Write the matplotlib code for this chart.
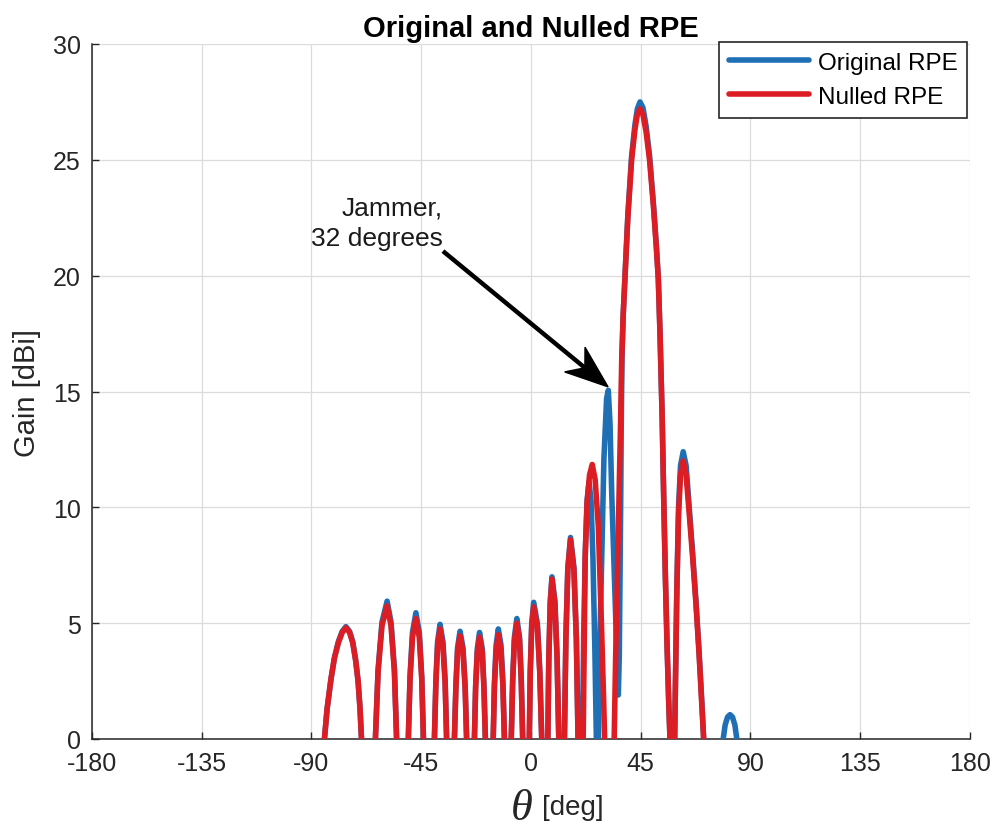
import numpy as np
import matplotlib.pyplot as plt
from matplotlib.patches import Polygon

plt.rcParams['font.family'] = ['Liberation Sans', 'DejaVu Sans']
plt.rcParams['axes.unicode_minus'] = False

# sidelobes left of the beam (angles shared by both patterns), -3 = dips below the axis
lobe_theta = [
    -84.9, -84.7, -83.6, -82.0, -80.6, -79.0, -77.4, -75.9, -74.4, -73.1, -71.9, -70.9, -70.1, -69.5, -69.3,
    -64.0, -63.8, -62.7, -61.1, -59.0, -57.4, -56.0, -55.1, -54.9,
    -50.5, -50.3, -49.6, -48.6, -47.2, -45.8, -44.8, -44.1, -43.9,
    -39.8, -39.6, -39.0, -38.3, -37.3, -36.1, -35.2, -34.6, -34.4,
    -31.6, -31.4, -30.8, -30.1, -29.1, -27.9, -27.0, -26.4, -26.2,
    -23.4, -23.2, -22.7, -22.0, -21.1, -20.0, -19.3, -18.7, -18.5,
    -15.7, -15.5, -15.0, -14.3, -13.4, -12.3, -11.5, -10.9, -10.7,
    -8.3, -8.1, -7.5, -6.8, -5.8, -4.7, -4.0, -3.4, -3.2,
    -0.9, -0.7, -0.3, 0.3, 1.1, 2.6, 3.6, 4.4, 4.6,
    6.7, 6.9, 7.3, 7.9, 8.6, 9.8, 10.7, 11.4, 11.6,
    13.5, 13.7, 14.3, 15.1, 16.2, 17.6, 18.6, 19.3, 19.5,
]
orig_lobe_gain = [
    -3, 0, 1.3, 2.6, 3.5, 4.2, 4.65, 4.85, 4.65, 4.2, 3.4, 2.5, 1.3, 0, -3,
    -3, 0, 3.0, 5.05, 5.95, 5.05, 3.0, 0, -3,
    -3, 0, 2.7, 4.6, 5.45, 4.6, 2.7, 0, -3,
    -3, 0, 2.5, 4.2, 4.95, 4.2, 2.5, 0, -3,
    -3, 0, 2.3, 3.95, 4.65, 3.95, 2.3, 0, -3,
    -3, 0, 2.3, 3.9, 4.6, 3.9, 2.3, 0, -3,
    -3, 0, 2.4, 4.05, 4.75, 4.05, 2.4, 0, -3,
    -3, 0, 2.6, 4.4, 5.2, 4.4, 2.6, 0, -3,
    -3, 0, 2.95, 5.0, 5.9, 5.0, 2.95, 0, -3,
    -3, 0, 3.5, 5.95, 7.0, 5.95, 3.5, 0, -3,
    -3, 0, 4.35, 7.4, 8.7, 7.4, 4.35, 0, -3,
]
nulled_lobe_gain = [
    -3, 0, 1.3, 2.6, 3.5, 4.15, 4.6, 4.8, 4.6, 4.15, 3.4, 2.5, 1.3, 0, -3,
    -3, 0, 2.9, 4.9, 5.75, 4.9, 2.9, 0, -3,
    -3, 0, 2.6, 4.4, 5.2, 4.4, 2.6, 0, -3,
    -3, 0, 2.4, 4.0, 4.75, 4.0, 2.4, 0, -3,
    -3, 0, 2.2, 3.8, 4.45, 3.8, 2.2, 0, -3,
    -3, 0, 2.2, 3.75, 4.4, 3.75, 2.2, 0, -3,
    -3, 0, 2.25, 3.8, 4.5, 3.8, 2.25, 0, -3,
    -3, 0, 2.5, 4.25, 5.0, 4.25, 2.5, 0, -3,
    -3, 0, 2.85, 4.85, 5.7, 4.85, 2.85, 0, -3,
    -3, 0, 3.45, 5.85, 6.9, 5.85, 3.45, 0, -3,
    -3, 0, 4.3, 7.3, 8.6, 7.3, 4.3, 0, -3,
]

# original pattern from 20 deg on: lobe, jammer lobe, main beam, far sidelobes
orig_theta_main = [
    20.9, 21.1, 21.6, 22.3, 23.0, 23.8, 24.6, 25.4, 26.2, 26.8, 27.0,
    27.4, 27.6, 28.2, 29.0, 29.9, 31.0, 31.7, 32.4, 33.1, 34.4, 35.4, 35.8,
    36.2, 36.5, 36.8, 37.0, 37.3, 37.8, 38.5, 39.7, 41.25, 42.6, 43.6, 44.7,
    45.9, 47.2, 48.6, 50.2, 51.4, 52.2, 52.9, 53.4, 53.8, 54.4, 55.1, 55.8,
    56.5, 57.0, 57.2,
    58.6, 58.9, 59.3, 59.8, 60.5, 61.3, 62.4, 63.6, 64.9, 66.3, 67.6, 68.9,
    70.1, 70.8, 71.0,
    78.6, 78.8, 79.6, 80.6, 81.6, 82.6, 83.6, 84.4, 84.6,
]
orig_gain_main = [
    -3, 0, 4.5, 8.2, 10.3, 11.1, 10.3, 7.8, 3.8, 0, -3,
    -3, 0, 4.0, 7.8, 12.1, 14.7, 15.05, 13.6, 10.6, 6.3, 3.0, 1.9,
    3.6, 7.0, 10.5, 13.5, 16.4, 18.3, 19.9, 22.6, 25.15, 26.5, 27.2, 27.5,
    27.25, 26.45, 25.2, 23.1, 21.3, 19.9, 17.5, 15.5, 13.8, 10.5, 7.0, 4.0,
    1.5, 0, -3,
    -3, 0, 3.0, 6.5, 10.0, 11.8, 12.4, 11.8, 10.0, 8.0, 6.0, 3.8,
    1.5, 0, -3,
    -3, 0, 0.6, 0.95, 1.05, 0.95, 0.6, 0, -3,
]

# nulled pattern from 20 deg on: null placed at the jammer
nulled_theta_main = [
    21.2, 21.4, 21.8, 22.2, 23.0, 24.0, 25.1, 26.3, 27.6, 28.9, 29.7, 30.2, 30.4,
    33.9, 34.1, 34.7, 35.4, 36.1, 36.7, 37.2, 37.8, 38.5, 39.7, 41.25, 42.6,
    43.6, 44.7, 45.9, 47.2, 48.6, 50.2, 51.4, 52.2, 52.9, 53.4, 53.8, 54.4,
    55.1, 55.8, 56.5, 57.0, 57.2,
    58.6, 58.9, 59.3, 59.8, 60.5, 61.3, 62.4, 63.6, 64.9, 66.3, 67.6, 68.9,
    70.1, 70.8, 71.0,
]
nulled_gain_main = [
    -3, 0, 4.0, 7.8, 10.2, 11.4, 11.85, 11.2, 9.2, 4.9, 2.0, 0, -3,
    -3, 0, 3.5, 7.0, 10.5, 13.5, 16.4, 18.3, 19.85, 22.5, 25.0, 26.3,
    26.95, 27.2, 26.95, 26.2, 25.0, 23.0, 21.2, 19.85, 17.5, 15.5, 13.8, 10.5,
    7.0, 4.0, 1.5, 0, -3,
    -3, 0, 3.0, 6.4, 9.7, 11.4, 12.0, 11.4, 9.7, 7.8, 5.9, 3.7,
    1.4, 0, -3,
]

xticks = [-180, -135, -90, -45, 0, 45, 90, 135, 180]
yticks = [0, 5, 10, 15, 20, 25, 30]

orig_theta = lobe_theta + orig_theta_main
orig_gain = orig_lobe_gain + orig_gain_main
nulled_theta = lobe_theta + nulled_theta_main
nulled_gain = nulled_lobe_gain + nulled_gain_main

fig = plt.figure(figsize=(9.95, 8.29), dpi=100)
ax = fig.add_axes([92 / 995, 89 / 829, 878 / 995, 695 / 829])

blue = '#1F6FB5'
red = '#DC1E24'
ax.plot(orig_theta, orig_gain, color=blue, lw=4.0, label='Original RPE',
        solid_joinstyle='round', solid_capstyle='round', zorder=3)
ax.plot(nulled_theta, nulled_gain, color=red, lw=4.0, label='Nulled RPE',
        solid_joinstyle='round', solid_capstyle='round', zorder=4)

ax.set_xlim(-180, 180)
ax.set_ylim(0, 30)
ax.set_xticks(xticks)
ax.set_yticks(yticks)
ax.set_xticklabels([str(t) for t in xticks])
ax.grid(True, color='#dcdcdc', lw=0.9)
ax.set_axisbelow(True)
for side in ['top', 'right']:
    ax.spines[side].set_visible(False)
for side in ['left', 'bottom']:
    ax.spines[side].set_color('#262626')
    ax.spines[side].set_linewidth(1.1)
ax.tick_params(direction='in', length=5, width=1, color='#262626',
               labelsize=18, labelcolor='#262626')
ax.tick_params(axis='x', pad=9)
ax.tick_params(axis='y', pad=8)

ax.set_title('Original and Nulled RPE', fontsize=21, fontweight='bold', pad=6)
fig.text(27 / 995, 1 - 393 / 829, 'Gain [dBi]', rotation=90, ha='center', va='center',
         fontsize=21, color='#262626')
fig.text(522 / 995, 1 - 820 / 829, '\u03b8', ha='center', va='baseline', fontsize=32,
         family='Liberation Serif', style='italic', color='#262626')
fig.text(542 / 995, 1 - 815 / 829, '[deg]', ha='left', va='baseline', fontsize=20,
         color='#262626')

# jammer arrow: shaft plus a swept-back head, built in pixels
tail = ax.transData.transform((-36.1, 21.06))
tip = ax.transData.transform((31.6, 15.2))
u = (tip - tail) / np.hypot(*(tip - tail))
n = np.array([-u[1], u[0]])
notch = tip - 30 * u
ax.plot([tail[0], notch[0]], [tail[1], notch[1]], color='black', lw=3.2,
        transform=None, solid_capstyle='butt', zorder=6)
head = [tip, tip - 43 * u + 16 * n, notch, tip - 43 * u - 16 * n]
fig.patches.append(Polygon(head, closed=True, facecolor='black', edgecolor='black',
                           lw=1, transform=None, zorder=6))
ax.text(-36.1, 21.1, 'Jammer,\n32 degrees', ha='right', va='bottom', fontsize=19,
        linespacing=1.35, color='#1a1a1a', zorder=6)

leg = ax.legend(loc='upper right', bbox_to_anchor=(0.9966, 1.003), fontsize=17.5,
                fancybox=False, edgecolor='#262626', framealpha=1, borderaxespad=0,
                handlelength=3.3, handletextpad=0.35, borderpad=0.4, labelspacing=0.5)
leg.get_frame().set_linewidth(1.2)
leg.set_zorder(10)

fig.savefig('out.png', dpi=100)
